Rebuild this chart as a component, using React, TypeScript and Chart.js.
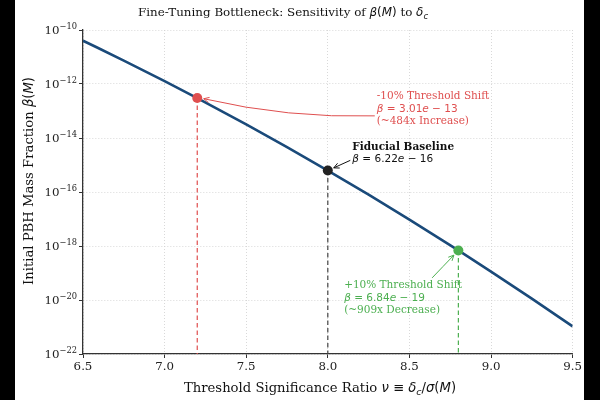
import React, { useEffect, useRef } from "react";
import { Chart, registerables } from "chart.js";
Chart.register(...registerables);

// ---- data ----
const nuValues = [6.5, 6.75, 7.0, 7.2, 7.5, 7.75, 8.0, 8.25, 8.5, 8.8, 9.0, 9.25, 9.5];
const betaValues = [4.02e-11, 7.39e-12, 1.28e-12, 3.01e-13, 3.19e-14, 4.6e-15, 6.22e-16, 7.92e-17, 9.48e-18, 6.84e-19, 1.13e-19, 1.12e-20, 1.05e-21];

const markerNu = [7.2, 8.0, 8.8];
const markerBeta = [3.01e-13, 6.22e-16, 6.84e-19];
const markerColors = ["#df4f4f", "#222222", "#4caf50"];
const dashColors = ["#df4f4f", "#444444", "#4caf50"];
const headLines = ["-10% Threshold Shift", "Fiducial Baseline", "+10% Threshold Shift"];
const tailLines = ["(~484x Increase)", "", "(~909x Decrease)"];
const annotNu = [8.3, 8.15, 8.1];
const annotBeta = [1.2e-13, 2.7e-15, 1.2e-20];

const xTicks = [6.5, 7.0, 7.5, 8.0, 8.5, 9.0, 9.5];
const yTickExps = [-22, -20, -18, -16, -14, -12, -10];

// ---- styling helpers ----
const SERIF = '"DejaVu Serif", serif';
const SANS = '"DejaVu Sans", sans-serif';
const sf = (px: number, w = "") => `${w} ${px}px ${SERIF}`;
const mi = (px: number) => `italic ${px}px ${SANS}`;
const mr = (px: number) => `${px}px ${SANS}`;

type Seg = { t: string; f: string; dy?: number };

function drawSegs(ctx: CanvasRenderingContext2D, segs: Seg[], x: number, y: number, align: "left" | "center" | "right") {
  let w = 0;
  for (const s of segs) {
    ctx.font = s.f;
    w += ctx.measureText(s.t).width;
  }
  let cx = align === "left" ? x : align === "center" ? x - w / 2 : x - w;
  ctx.textAlign = "left";
  for (const s of segs) {
    ctx.font = s.f;
    ctx.fillText(s.t, cx, y + (s.dy || 0));
    cx += ctx.measureText(s.t).width;
  }
  return w;
}

const arrowStartOffsets = [
  [-2, 7],
  [-2, 7],
  [88, -20],
];
const arrowRad = [0.065, 0, 0];

const overlay = {
  id: "overlay",
  beforeDatasetsDraw(chart: any) {
    const { ctx, scales, chartArea } = chart;
    const x = scales.x, y = scales.y;
    ctx.save();
    markerNu.forEach((nu, i) => {
      const px = x.getPixelForValue(nu);
      const py = y.getPixelForValue(markerBeta[i]);
      ctx.strokeStyle = dashColors[i];
      ctx.lineWidth = 1.2;
      ctx.setLineDash([4.5, 3]);
      ctx.beginPath();
      ctx.moveTo(px, py);
      ctx.lineTo(px, chartArea.bottom);
      ctx.stroke();
    });
    ctx.restore();
  },
  afterDraw(chart: any) {
    const { ctx, scales, chartArea } = chart;
    const x = scales.x, y = scales.y;
    ctx.save();
    ctx.fillStyle = "#111";
    ctx.textBaseline = "alphabetic";

    // title
    const T = 11.9;
    drawSegs(
      ctx,
      [
        { t: "Fine-Tuning Bottleneck: Sensitivity of ", f: sf(T) },
        { t: "β", f: mi(T) },
        { t: "(", f: mr(T) },
        { t: "M", f: mi(T) },
        { t: ")", f: mr(T) },
        { t: " to ", f: sf(T) },
        { t: "δ", f: mi(T) },
        { t: "c", f: mi(8.5), dy: 2.5 },
      ],
      268,
      16,
      "center"
    );

    // x label
    const L = 13.2;
    drawSegs(
      ctx,
      [
        { t: "Threshold Significance Ratio ", f: sf(L) },
        { t: "ν", f: mi(L) },
        { t: " ≡ ", f: mr(L) },
        { t: "δ", f: mi(L) },
        { t: "c", f: mi(9.5), dy: 2.5 },
        { t: "/", f: mr(L) },
        { t: "σ", f: mi(L) },
        { t: "(", f: mr(L) },
        { t: "M", f: mi(L) },
        { t: ")", f: mr(L) },
      ],
      305,
      392,
      "center"
    );

    // y label
    ctx.save();
    ctx.translate(15, 181);
    ctx.rotate(-Math.PI / 2);
    ctx.textBaseline = "middle";
    drawSegs(
      ctx,
      [
        { t: "Initial PBH Mass Fraction ", f: sf(L) },
        { t: "β", f: mi(L) },
        { t: "(", f: mr(L) },
        { t: "M", f: mi(L) },
        { t: ")", f: mr(L) },
      ],
      0,
      0,
      "center"
    );
    ctx.restore();

    // y tick labels
    ctx.textBaseline = "middle";
    ctx.fillStyle = "#222";
    yTickExps.forEach((e) => {
      const py = y.getPixelForValue(Math.pow(10, e));
      drawSegs(
        ctx,
        [
          { t: "10", f: sf(11.8) },
          { t: "−" + String(-e), f: sf(8.3), dy: -4.5 },
        ],
        chartArea.left - 6,
        py + 1,
        "right"
      );
    });

    // annotations
    const A = 10.5;
    markerNu.forEach((nu, i) => {
      const col = markerColors[i] === "#222222" ? "#111" : markerColors[i];
      ctx.fillStyle = col;
      ctx.strokeStyle = col;
      const ax = x.getPixelForValue(annotNu[i]);
      const ay = y.getPixelForValue(annotBeta[i]);
      const [mant, ex] = markerBeta[i].toExponential(2).split("e");
      const lines: Seg[][] = [];
      lines.push([{ t: headLines[i], f: i === 1 ? sf(A, "bold") : sf(A) }]);
      lines.push([
        { t: "β", f: mi(10.5) },
        { t: " = " + mant, f: mr(10.5) },
        { t: "e", f: mi(10.5) },
        { t: " − " + ex.replace("-", ""), f: mr(10.5) },
      ]);
      if (tailLines[i]) lines.push([{ t: tailLines[i], f: sf(A) }]);
      const lh = 12.8;
      const y0 = ay - ((lines.length - 1) * lh) / 2;
      ctx.textBaseline = "middle";
      lines.forEach((segs, k) => drawSegs(ctx, segs, ax, y0 + k * lh, "left"));

      // arrow
      const px = x.getPixelForValue(nu);
      const py = y.getPixelForValue(markerBeta[i]);
      const sx = ax + arrowStartOffsets[i][0];
      const sy = ay + arrowStartOffsets[i][1];
      let ux = sx - px, uy = sy - py;
      const d = Math.hypot(ux, uy);
      ux /= d;
      uy /= d;
      const ex2 = px + ux * 6.5;
      const ey2 = py + uy * 6.5;
      const mx = (sx + ex2) / 2, my = (sy + ey2) / 2;
      const dx = ex2 - sx, dy = ey2 - sy;
      const cx = mx + arrowRad[i] * dy;
      const cy = my - arrowRad[i] * dx;
      ctx.lineWidth = 1;
      ctx.setLineDash([]);
      ctx.beginPath();
      ctx.moveTo(sx, sy);
      ctx.quadraticCurveTo(cx, cy, ex2, ey2);
      ctx.stroke();
      const ang = Math.atan2(ey2 - cy, ex2 - cx);
      const hl = 6;
      ctx.beginPath();
      ctx.moveTo(ex2 - hl * Math.cos(ang - 0.45), ey2 - hl * Math.sin(ang - 0.45));
      ctx.lineTo(ex2, ey2);
      ctx.lineTo(ex2 - hl * Math.cos(ang + 0.45), ey2 - hl * Math.sin(ang + 0.45));
      ctx.stroke();
    });
    ctx.restore();
  },
};

export default function App() {
  const ref = useRef<HTMLCanvasElement>(null);
  useEffect(() => {
    const chart = new Chart(ref.current!, {
      type: "line",
      data: {
        datasets: [
          ...markerNu.map((nu, i) => ({
            data: [{ x: nu, y: markerBeta[i] }],
            showLine: false,
            pointRadius: 5,
            pointBackgroundColor: markerColors[i],
            pointBorderColor: markerColors[i],
            pointBorderWidth: 0,
            order: 0,
          })),
          {
            data: nuValues.map((v, i) => ({ x: v, y: betaValues[i] })),
            borderColor: "#1a4a7a",
            borderWidth: 2.6,
            pointRadius: 0,
            fill: false,
            cubicInterpolationMode: "monotone",
            order: 1,
          },
        ] as any,
      },
      plugins: [overlay],
      options: {
        responsive: false,
        animation: false,
        devicePixelRatio: 1,
        layout: { padding: { top: 30, right: 11, left: 0, bottom: 0 } },
        plugins: { legend: { display: false }, tooltip: { enabled: false }, title: { display: false } },
        scales: {
          x: {
            type: "linear",
            min: 6.5,
            max: 9.5,
            afterBuildTicks: (s: any) => {
              s.ticks = xTicks.map((v) => ({ value: v }));
            },
            ticks: {
              autoSkip: false,
              maxRotation: 0,
              callback: (v: any) => Number(v).toFixed(1),
              font: { family: "DejaVu Serif", size: 11.8 },
              color: "#222",
              padding: 2,
            },
            grid: { color: "#cfcfcf", lineWidth: 0.8, tickLength: 4, tickColor: "#333", tickWidth: 1 },
            border: { display: true, color: "#333", width: 1.3, dash: [1, 2] },
            afterFit: (s: any) => {
              s.height = 46;
            },
          },
          y: {
            type: "logarithmic",
            min: 1e-22,
            max: 1e-10,
            afterBuildTicks: (s: any) => {
              s.ticks = yTickExps.map((e) => ({ value: Math.pow(10, e) }));
            },
            ticks: { display: false },
            grid: { color: "#cfcfcf", lineWidth: 0.8, tickLength: 4, tickColor: "#333", tickWidth: 1 },
            border: { display: true, color: "#333", width: 1.3, dash: [1, 2] },
            afterFit: (s: any) => {
              s.width = 68;
            },
          },
        },
      } as any,
    });
    return () => chart.destroy();
  }, []);
  return (
    <div style={{ position: "fixed", left: 0, top: 0, width: 600, height: 400, background: "#000" }}>
      <div style={{ position: "absolute", left: 15, top: 0, width: 569, height: 400, background: "#fff" }}>
        <canvas ref={ref} width={569} height={400} style={{ width: 569, height: 400, display: "block" }} />
      </div>
    </div>
  );
}
